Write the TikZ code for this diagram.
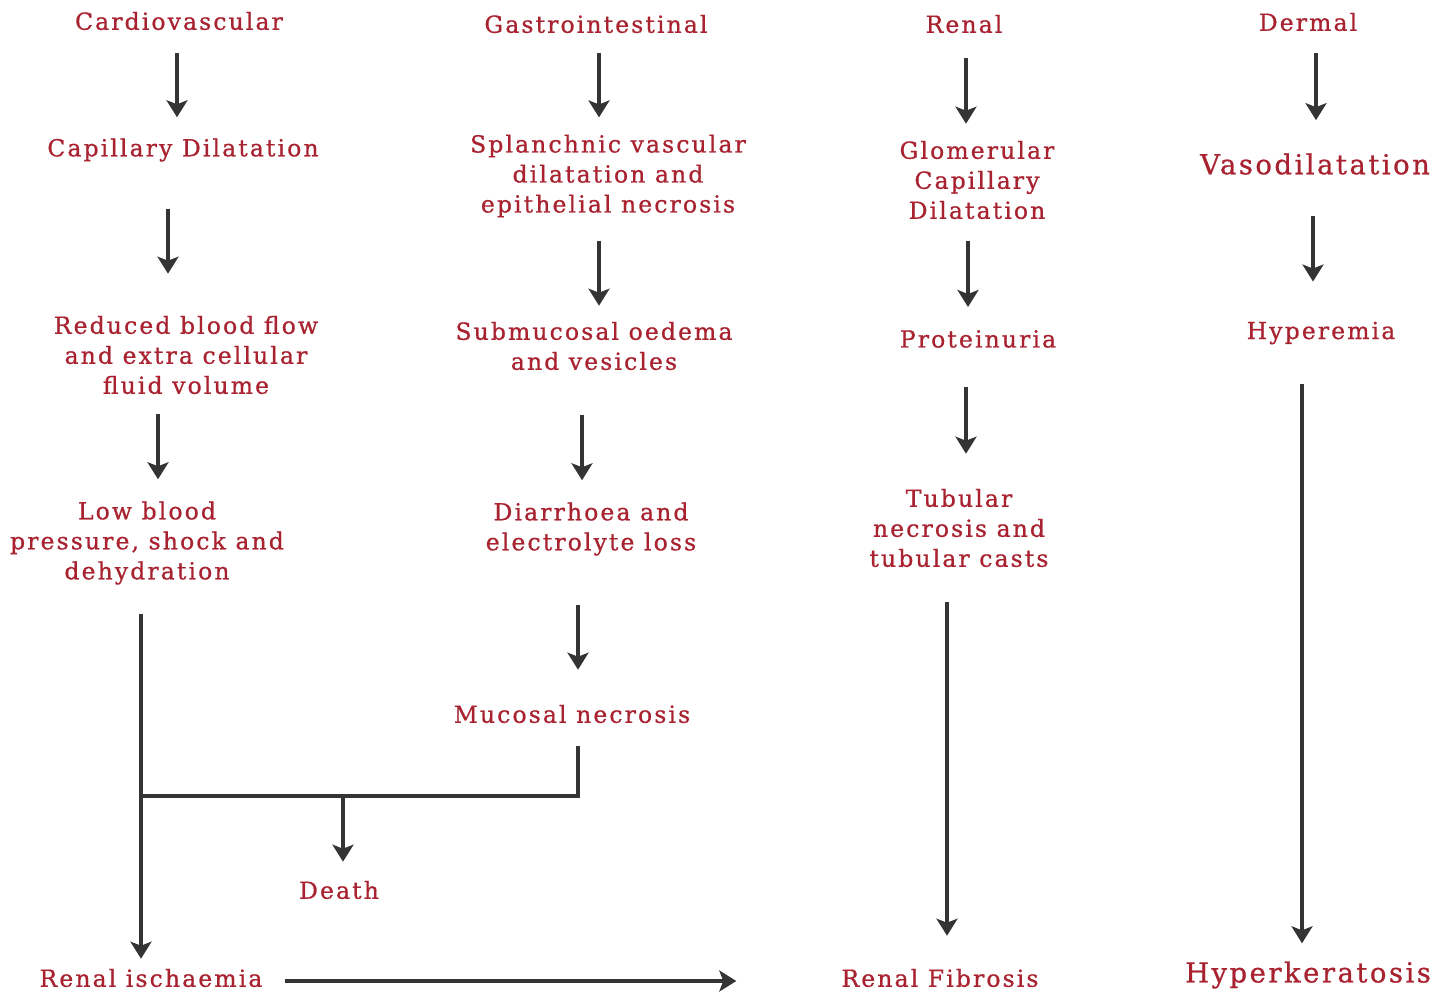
\documentclass[tikz,border=0pt]{standalone}
\usepackage{fontspec}
\setmainfont{DejaVu Serif}[LetterSpace=9, FakeBold=0.8]
\usetikzlibrary{arrows.meta}
\definecolor{txt}{RGB}{168,34,48}
\definecolor{ln}{RGB}{52,52,52}
\tikzset{
  t/.style={text=txt, align=center, inner sep=0pt, font=\fontsize{23.5}{30}\selectfont},
  big/.style={font=\fontsize{27.5}{30}\selectfont},
  conn/.style={draw=ln, line width=3.2pt},
  arr/.style={conn, -{Stealth[length=17pt,width=21pt,inset=4pt]}},
}
\begin{document}
\begin{tikzpicture}[x=1pt,y=-1pt]
\useasboundingbox (0,0) rectangle (1445,993);
% column 1
\node[t] (cv) at (179,21) {Cardiovascular};
\node[t] (cd) at (183,150) {Capillary Dilatation};
\node[t] (rb) at (186,355) {Reduced blood flow\\and extra cellular\\fluid volume};
\node[t] (lb) at (147,543) {Low blood\\pressure, shock and\\dehydration};
\node[t] (ri) at (151,978) {Renal ischaemia};
\node[t] (de) at (339,890) {Death};
% column 2
\node[t] (gi) at (596,24) {Gastrointestinal};
\node[t] (sv) at (608,176) {Splanchnic vascular\\dilatation and\\epithelial necrosis};
\node[t] (so) at (594,346) {Submucosal oedema\\and vesicles};
\node[t] (dl) at (591,529) {Diarrhoea and\\electrolyte loss};
\node[t] (mn) at (572,714) {Mucosal necrosis};
% column 3
\node[t] (re) at (964,24) {Renal};
\node[t] (gc) at (977,180) {Glomerular\\Capillary\\Dilatation};
\node[t] (pr) at (978,339) {Proteinuria};
\node[t] (tn) at (959,528) {Tubular\\necrosis and\\tubular casts};
\node[t] (rf) at (940,978) {Renal Fibrosis};
% column 4
\node[t] (dm) at (1308,22) {Dermal};
\node[t,big] (va) at (1315,164) {Vasodilatation};
\node[t] (hy) at (1321,333) {Hyperemia};
\node[t,big] (hk) at (1308,975) {Hyperkeratosis};
% junction coordinates
\coordinate (jl) at (141,796);
\coordinate (mj) at (578,796);
\coordinate (jd) at (343,796);
% arrows column 1
\draw[arr, shorten <=23pt, shorten >=21pt] (cv.south -| 177,0) -- (cd.north -| 177,0);
\draw[arr, shorten <=47pt, shorten >=42pt] (cd.south -| 168,0) -- (rb.north -| 168,0);
\draw[arr, shorten <=20pt, shorten >=22pt] (rb.south -| 158,0) -- (lb.north -| 158,0);
\draw[arr, shorten <=29pt, shorten >=10pt] (lb.south -| jl) -- (ri.north -| jl);
% column 2
\draw[arr, shorten <=20pt, shorten >=17pt] (gi.south -| 599,0) -- (sv.north -| 599,0);
\draw[arr, shorten <=23pt, shorten >=16pt] (sv.south -| 599,0) -- (so.north -| 599,0);
\draw[arr, shorten <=45pt, shorten >=22pt] (so.south -| 582,0) -- (dl.north -| 582,0);
\draw[arr, shorten <=49pt, shorten >=35pt] (dl.south -| mj) -- (mn.north -| mj);
\draw[conn, shorten <=23pt] (mn.south -| mj) -- (mj) -- (jl);
\draw[arr, shorten >=19pt] (jd) -- (de.north -| jd);
\draw[arr, shorten <=22pt, shorten >=105pt] ([yshift=-3pt]ri.east) -- ([yshift=-3pt]rf.west |- ri.east);
% column 3
\draw[arr, shorten <=25pt, shorten >=17pt] (re.south -| 966,0) -- (gc.north -| 966,0);
\draw[arr, shorten <=22pt, shorten >=23pt] (gc.south -| 968,0) -- (pr.north -| 968,0);
\draw[arr, shorten <=39pt, shorten >=35pt] (pr.south -| 966,0) -- (tn.north -| 966,0);
\draw[arr, shorten <=35pt, shorten >=33pt] (tn.south -| 947,0) -- (rf.north -| 947,0);
% column 4
\draw[arr, shorten <=22pt, shorten >=33pt] (dm.south -| 1316,0) -- (va.north -| 1316,0);
\draw[arr, shorten <=41pt, shorten >=40pt] (va.south -| 1313,0) -- (hy.north -| 1313,0);
\draw[arr, shorten <=40pt, shorten >=18pt] (hy.south -| 1302,0) -- (hk.north -| 1302,0);
\end{tikzpicture}
\end{document}
